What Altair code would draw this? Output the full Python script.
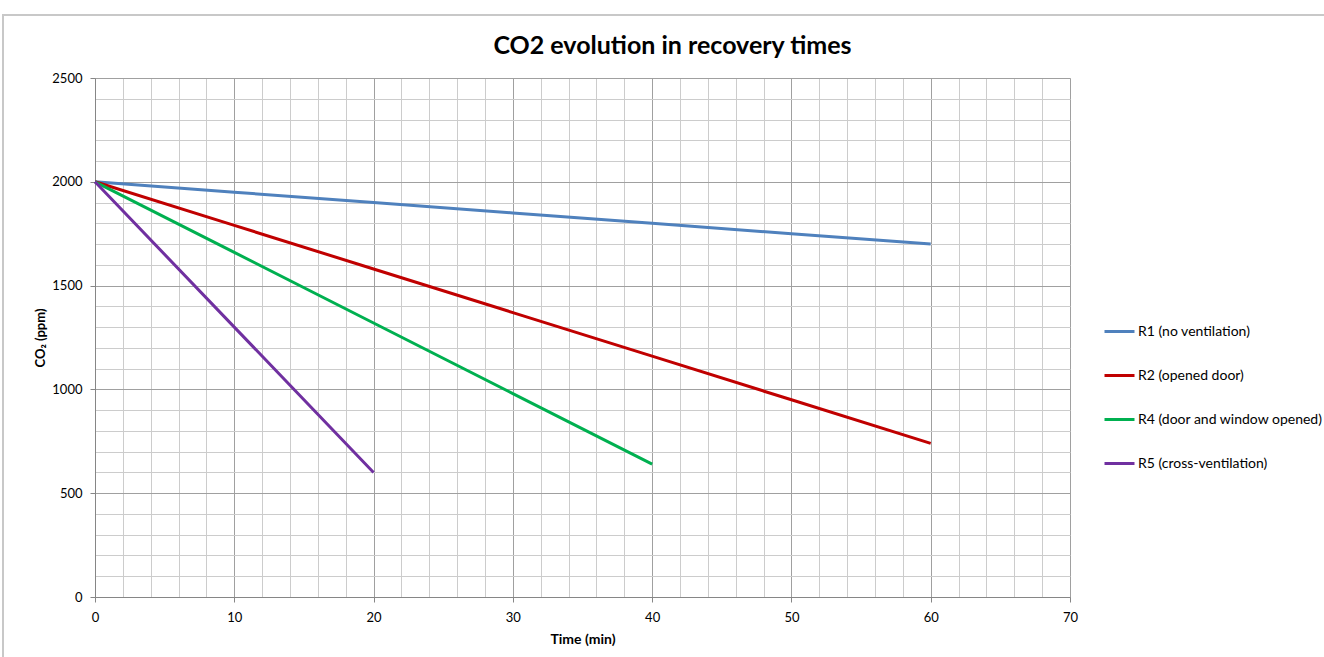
import altair as alt
import pandas as pd

# ---- data ----
series_names = ["R1 (no ventilation)", "R2 (opened door)",
                "R4 (door and window opened)", "R5 (cross-ventilation)"]
series_colors = ["#4F81BD", "#C00000", "#00B050", "#7030A0"]

time_r1 = [0, 10, 20, 30, 40, 50, 60]
co2_r1 = [2000, 1950, 1900, 1850, 1800, 1750, 1700]
time_r2 = [0, 10, 20, 30, 40, 50, 60]
co2_r2 = [2000, 1790, 1580, 1370, 1160, 950, 740]
time_r4 = [0, 10, 20, 30, 40]
co2_r4 = [2000, 1660, 1320, 980, 640]
time_r5 = [0, 10, 20]
co2_r5 = [2000, 1300, 600]

x_major = [0, 10, 20, 30, 40, 50, 60, 70]
x_minor = [v for v in range(0, 71, 2) if v % 10 != 0]
y_major = [0, 500, 1000, 1500, 2000, 2500]
y_minor = [v for v in range(0, 2501, 100) if v % 500 != 0]

rows = []
for name, ts, vs in zip(series_names,
                        [time_r1, time_r2, time_r4, time_r5],
                        [co2_r1, co2_r2, co2_r4, co2_r5]):
    for i, (t, v) in enumerate(zip(ts, vs)):
        rows.append({"series": name, "time": t, "co2": v, "order": i})
df = pd.DataFrame(rows)

FONT = "Lato"
W, H = 975, 519
PAD = {"left": 95, "top": 78, "right": 1324 - 95 - W, "bottom": 657 - 78 - H}

xs = alt.Scale(domain=[0, 70], nice=False, zero=False)
ys = alt.Scale(domain=[0, 2500], nice=False)
color = alt.Color("series:N",
                  scale=alt.Scale(domain=series_names, range=series_colors),
                  legend=alt.Legend(title=None, orient="none", legendX=1008, legendY=237,
                                    symbolType="stroke", symbolSize=900,
                                    symbolStrokeWidth=3, labelFontSize=14,
                                    labelFont=FONT, labelColor="#000000",
                                    labelOffset=2, rowPadding=20, padding=0,
                                    labelLimit=400))

minor_x_axis = alt.Axis(values=x_minor, grid=True, gridColor="#cccccc", gridWidth=1,
                        labels=False, ticks=False, domain=False, title=None,
                        orient="bottom")
minor_y_axis = alt.Axis(values=y_minor, grid=True, gridColor="#cccccc", gridWidth=1,
                        labels=False, ticks=False, domain=False, title=None,
                        orient="left")
major_x_axis = alt.Axis(values=x_major, grid=True, gridColor="#a0a0a0", gridWidth=1,
                        ticks=True, tickSize=5, tickColor="#868686",
                        domainColor="#868686", labelFontSize=13, labelFont=FONT,
                        labelColor="#000000", labelPadding=9, labelFlush=False,
                        title="Time (min)", titleFont=FONT, titleFontSize=14,
                        titleFontWeight="bold", titlePadding=8, orient="bottom",
                        format="d")
major_y_axis = alt.Axis(values=y_major, grid=True, gridColor="#a0a0a0", gridWidth=1,
                        ticks=True, tickSize=5, tickColor="#868686",
                        domainColor="#868686", labelFontSize=13, labelFont=FONT,
                        labelColor="#000000", labelPadding=8, labelFlush=False,
                        title="CO₂ (ppm)", titleFont=FONT, titleFontSize=13,
                        titleFontWeight="bold", titlePadding=4, orient="left",
                        format="d")

border = alt.Chart(pd.DataFrame({"k": [0]})).mark_rect(
    fill=None, stroke="#c8c8c8", strokeWidth=2, clip=False
).encode(x=alt.value(-92), x2=alt.value(1240), y=alt.value(-63), y2=alt.value(600))

minor = alt.Chart(df).mark_line(opacity=0).encode(
    x=alt.X("time:Q", scale=xs, axis=minor_x_axis),
    y=alt.Y("co2:Q", scale=ys, axis=minor_y_axis),
    detail="series:N",
)

major = alt.Chart(df).mark_line(strokeWidth=3).encode(
    x=alt.X("time:Q", scale=xs, axis=major_x_axis),
    y=alt.Y("co2:Q", scale=ys, axis=major_y_axis),
    color=color,
    order="order:Q",
)

chart = alt.layer(border, minor, major).resolve_axis(
    x="independent", y="independent"
).properties(
    width=W, height=H,
    autosize=alt.AutoSizeParams(type="none"),
    padding=PAD,
    title=alt.TitleParams("CO2 evolution in recovery times", font=FONT, fontSize=25,
                          fontWeight="bold", color="#000000", anchor="middle",
                          frame="group", offset=0, dy=45, dx=90),
).configure_view(stroke="#a0a0a0").configure(background="white")

chart.save("out.html", embed_options={"renderer": "svg", "actions": False})
